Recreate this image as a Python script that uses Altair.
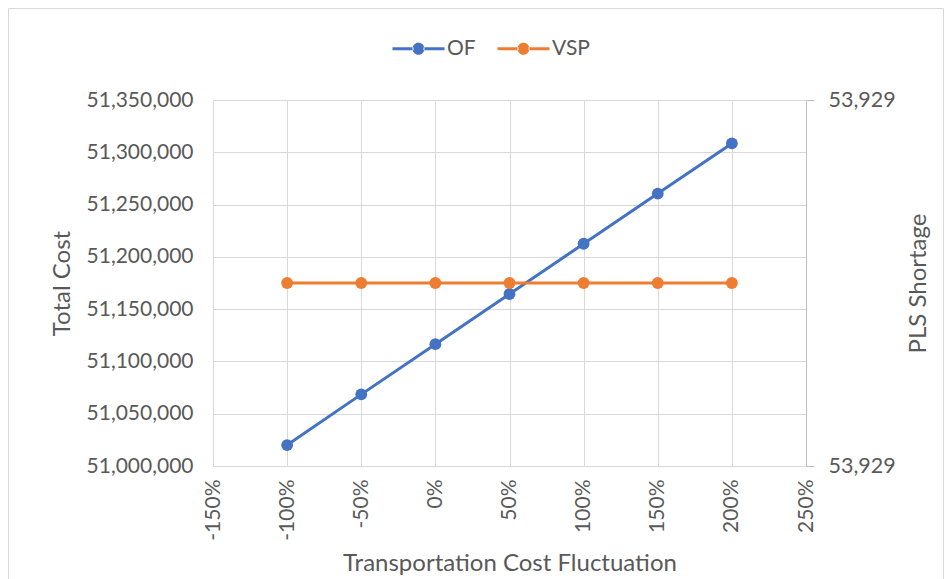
import altair as alt
import pandas as pd

# ---- data ----
x_pct = [-100, -50, 0, 50, 100, 150, 200]
of_total_cost = [51020000, 51068500, 51116500, 51164500, 51212500, 51260500, 51308500]
vsp_pls_shortage = [53929, 53929, 53929, 53929, 53929, 53929, 53929]

x_ticks = [-150, -100, -50, 0, 50, 100, 150, 200, 250]
left_ticks = [51000000, 51050000, 51100000, 51150000, 51200000, 51250000, 51300000, 51350000]
right_domain = [53928.6, 53929.4]
series_names = ["OF", "VSP"]
series_colors = ["#4472C4", "#ED7D31"]

df_of = pd.DataFrame({"x": x_pct, "value": of_total_cost, "series": "OF"})
df_vsp = pd.DataFrame({"x": x_pct, "value": vsp_pls_shortage, "series": "VSP"})

FONT = "Lato"
TXT = "#595959"
GRID = "#d9d9d9"
AXLINE = "#bfbfbf"
LBL = 21
TTL = 24

W, H = 593, 366
PAD_L, PAD_T, PAD_R, PAD_B = 205, 92, 138, 114

x_enc = alt.X(
    "x:Q",
    scale=alt.Scale(domain=[-150, 250], nice=False, zero=False),
    axis=alt.Axis(
        values=x_ticks,
        labelExpr="datum.value + '%'",
        labelAngle=-90,
        labelFontSize=LBL,
        labelColor=TXT,
        labelFont=FONT,
        labelPadding=13,
        ticks=False,
        domain=True,
        domainColor=GRID,
        grid=True,
        gridColor=GRID,
        title="Transportation Cost Fluctuation",
        titleFontSize=TTL,
        titleFontWeight="normal",
        titleColor=TXT,
        titleFont=FONT,
        titlePadding=11,
    ),
)

y_left = alt.Y(
    "value:Q",
    scale=alt.Scale(domain=[left_ticks[0], left_ticks[-1]], nice=False, zero=False),
    axis=alt.Axis(
        orient="left",
        values=left_ticks,
        format=",.0f",
        labelFontSize=LBL,
        labelColor=TXT,
        labelFont=FONT,
        labelPadding=20,
        ticks=False,
        domain=False,
        grid=True,
        gridColor=GRID,
        title="Total Cost",
        titleFontSize=TTL,
        titleFontWeight="normal",
        titleColor=TXT,
        titleFont=FONT,
        titlePadding=12,
    ),
)

y_right = alt.Y(
    "value:Q",
    scale=alt.Scale(domain=right_domain, nice=False, zero=False),
    axis=alt.Axis(
        orient="right",
        values=right_domain,
        format=",.0f",
        labelFontSize=21.5,
        labelColor=TXT,
        labelFont=FONT,
        labelPadding=14,
        ticks=True,
        tickSize=8,
        tickColor=AXLINE,
        domain=True,
        domainColor=AXLINE,
        grid=False,
        title="PLS Shortage",
        titleAngle=270,
        titleFontSize=TTL,
        titleFontWeight="normal",
        titleColor=TXT,
        titleFont=FONT,
        titlePadding=35,
    ),
)

legend_path = (
    "M-2.6,-0.15L-0.5,-0.15L-0.5,0.15L-2.6,0.15Z "
    "M0.5,-0.15L2.6,-0.15L2.6,0.15L0.5,0.15Z "
    "M-0.6,0A0.6,0.6,0,1,0,0.6,0A0.6,0.6,0,1,0,-0.6,0Z"
)

color_enc = alt.Color(
    "series:N",
    scale=alt.Scale(domain=series_names, range=series_colors),
    legend=alt.Legend(
        title=None,
        orient="none",
        direction="horizontal",
        legendX=195,
        legendY=-62,
        symbolType=legend_path,
        symbolSize=400,
        symbolStrokeWidth=0,
        labelFontSize=21,
        labelFont=FONT,
        labelColor=TXT,
        labelOffset=18,
        columnPadding=21,
        padding=0,
    ),
)

frame = alt.Chart(pd.DataFrame({"a": [0]})).mark_rect(
    fill=None, stroke=GRID, strokeWidth=1
).encode(
    x=alt.value(-PAD_L + 0.5),
    x2=alt.value(W + PAD_R - 0.5),
    y=alt.value(-PAD_T + 0.5),
    y2=alt.value(H + PAD_B + 20),
)

of_line = alt.Chart(df_of).mark_line(color=series_colors[0], strokeWidth=3).encode(x=x_enc, y=y_left)
of_pts = alt.Chart(df_of).mark_circle(size=140, opacity=1).encode(x=x_enc, y=y_left, color=color_enc)
vsp_line = alt.Chart(df_vsp).mark_line(color=series_colors[1], strokeWidth=3).encode(x=x_enc, y=y_right)
vsp_pts = alt.Chart(df_vsp).mark_circle(size=140, opacity=1).encode(x=x_enc, y=y_right, color=color_enc)

left = alt.layer(of_line, of_pts)
right = alt.layer(vsp_line, vsp_pts)

chart = (
    alt.layer(frame, left, right)
    .resolve_scale(y="independent")
    .properties(
        width=W,
        height=H,
        autosize=alt.AutoSizeParams(type="none"),
        padding={"left": PAD_L, "top": PAD_T, "right": PAD_R, "bottom": PAD_B},
        background="white",
    )
    .configure_view(stroke=None)
)

chart.save("out.html", embed_options={"renderer": "svg", "actions": False})
